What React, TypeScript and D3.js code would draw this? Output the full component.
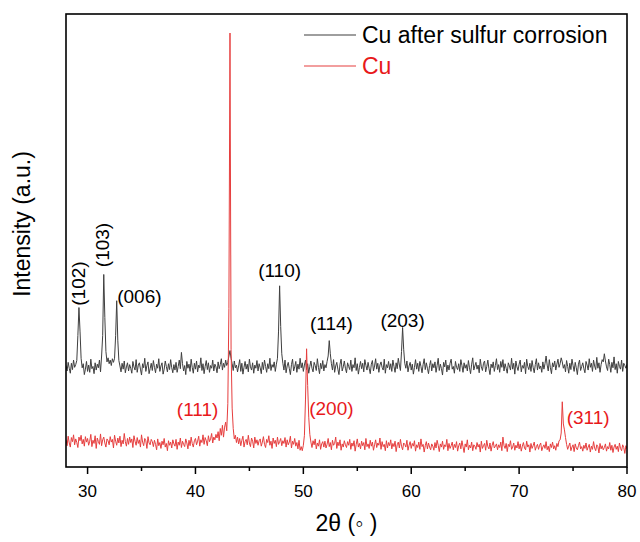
import * as d3 from "d3";

// XRD scans, 2θ from 28° to 80° every 0.1°, intensity in arbitrary units
const start = 28;
const step = 0.1;

const sulfurCu = [
  224, 212, 231, 218, 207, 229, 215, 236, 220, 226, 235, 290, 352, 300, 240, 219, 228, 204, 216, 233,
  211, 225, 209, 238, 217, 222, 206, 230, 214, 227, 219, 236, 210, 245, 290, 425, 330, 255, 232, 241,
  228, 236, 224, 239, 231, 240, 290, 367, 280, 235, 223, 210, 229, 216, 234, 208, 221, 230, 212, 226,
  218, 207, 233, 221, 214, 237, 209, 225, 230, 216, 203, 228, 219, 240, 211, 224, 232, 206, 217, 229,
  213, 235, 220, 208, 227, 218, 239, 211, 223, 230, 205, 216, 234, 222, 210, 228, 215, 237, 219, 208,
  226, 214, 231, 209, 222, 236, 217, 253, 228, 212, 224, 204, 233, 218, 227, 211, 238, 220, 207, 229,
  216, 234, 210, 225, 219, 241, 213, 228, 206, 222, 235, 215, 230, 209, 224, 218, 236, 212, 227, 221,
  208, 232, 217, 226, 239, 214, 229, 220, 236, 224, 231, 245, 257, 240, 228, 213, 234, 219, 225, 210,
  223, 237, 211, 229, 205, 220, 233, 216, 227, 210, 238, 221, 214, 230, 207, 225, 218, 235, 212, 228,
  219, 206, 231, 215, 236, 222, 209, 228, 217, 240, 213, 226, 220, 232, 211, 227, 240, 300, 400, 310,
  250, 229, 214, 236, 208, 223, 231, 217, 204, 226, 238, 212, 221, 233, 209, 227, 216, 240, 219, 230,
  211, 225, 236, 215, 228, 207, 222, 234, 218, 210, 231, 224, 213, 239, 220, 206, 229, 217, 235, 212,
  226, 219, 233, 245, 279, 250, 228, 214, 237, 209, 223, 231, 216, 204, 227, 238, 212, 221, 234, 218,
  208, 230, 222, 215, 236, 211, 226, 219, 241, 213, 228, 205, 220, 233, 217, 229, 210, 237, 224, 214,
  231, 218, 206, 227, 235, 212, 223, 239, 216, 229, 209, 225, 232, 220, 214, 238, 207, 226, 219, 233,
  215, 228, 211, 236, 222, 209, 230, 217, 240, 225, 213, 255, 308, 260, 229, 218, 234, 210, 223, 231,
  214, 227, 205, 220, 237, 216, 229, 211, 233, 222, 208, 226, 239, 215, 230, 218, 206, 224, 235, 212,
  228, 219, 232, 209, 224, 240, 213, 227, 217, 203, 231, 221, 236, 210, 225, 214, 229, 238, 216, 222,
  207, 233, 220, 215, 228, 211, 237, 224, 209, 230, 218, 226, 212, 235, 219, 206, 227, 241, 214, 223,
  231, 216, 225, 208, 238, 221, 213, 229, 234, 210, 222, 236, 217, 204, 227, 219, 232, 211, 224, 239,
  215, 226, 209, 233, 220, 237, 212, 228, 218, 207, 230, 223, 214, 240, 216, 229, 205, 234, 221, 213,
  227, 236, 210, 224, 218, 231, 206, 238, 222, 215, 229, 211, 235, 220, 208, 226, 239, 214, 230, 217,
  223, 209, 232, 216, 228, 245, 225, 212, 237, 219, 206, 230, 221, 234, 214, 227, 238, 220, 228, 241,
  232, 218, 226, 210, 235, 222, 207, 229, 215, 238, 224, 211, 231, 219, 204, 227, 236, 213, 222, 230,
  217, 208, 233, 225, 214, 239, 220, 229, 211, 236, 223, 215, 242, 218, 230, 209, 226, 237, 232, 250,
  234, 221, 213, 238, 226, 209, 231, 219, 243, 215, 228, 207, 233, 222, 216, 236, 211, 229, 224, 218,
  227,
];

const pureCu = [
  60, 47, 68, 53, 44, 65, 56, 71, 49, 62, 54, 43, 66, 58, 70, 51, 61, 46, 67, 55,
  63, 48, 57, 72, 45, 59, 52, 69, 41, 64, 56, 50, 73, 47, 60, 66, 53, 44, 62, 58,
  49, 67, 55, 61, 42, 70, 57, 48, 64, 53, 68, 45, 59, 51, 74, 56, 46, 63, 50, 66,
  54, 62, 43, 69, 57, 48, 65, 52, 60, 44, 71, 55, 47, 63, 58, 41, 67, 53, 49, 61,
  56, 45, 59, 50, 38, 62, 47, 54, 41, 57, 49, 63, 44, 52, 36, 58, 48, 55, 42, 60,
  51, 46, 61, 39, 55, 48, 64, 43, 57, 50, 45, 62, 53, 40, 59, 47, 66, 52, 44, 58,
  63, 49, 57, 68, 46, 60, 54, 71, 50, 65, 58, 47, 69, 56, 62, 74, 53, 66, 60, 72,
  64, 78, 58, 85, 70, 92, 66, 88, 99, 80, 140, 350, 958, 260, 130, 85, 62, 70, 54, 66,
  51, 63, 47, 59, 68, 44, 56, 61, 49, 70, 53, 45, 64, 57, 42, 66, 52, 60, 48, 58,
  62, 46, 55, 67, 50, 43, 61, 54, 69, 48, 57, 41, 64, 52, 59, 45, 66, 50, 56, 63,
  47, 58, 52, 65, 44, 60, 49, 55, 68, 42, 57, 50, 63, 46, 54, 40, 59, 37, 45, 36,
  48, 70, 150, 261, 180, 110, 72, 55, 43, 58, 49, 62, 40, 53, 46, 60, 39, 51, 56, 44,
  57, 42, 50, 63, 45, 54, 38, 59, 48, 52, 66, 41, 55, 47, 60, 37, 51, 44, 58, 49,
  43, 56, 48, 61, 39, 53, 46, 58, 35, 50, 62, 44, 52, 40, 57, 47, 54, 38, 63, 45,
  51, 41, 59, 46, 55, 37, 49, 60, 43, 53, 48, 64, 39, 56, 45, 50, 36, 58, 42, 54,
  47, 60, 40, 52, 45, 57, 34, 49, 55, 42, 61, 46, 38, 53, 50, 44, 59, 37, 48, 56,
  41, 52, 46, 58, 35, 49, 43, 55, 39, 62, 45, 50, 33, 47, 56, 40, 53, 44, 38, 51,
  46, 37, 54, 42, 59, 48, 34, 51, 44, 57, 39, 49, 45, 61, 36, 52, 41, 47, 55, 38,
  50, 43, 56, 35, 47, 53, 40, 58, 45, 32, 51, 44, 60, 38, 48, 42, 55, 36, 49, 46,
  39, 54, 44, 50, 33, 57, 41, 47, 52, 37, 59, 45, 40, 53, 35, 48, 56, 42, 46, 51,
  38, 49, 43, 55, 36, 66, 47, 41, 52, 34, 50, 45, 58, 39, 44, 53, 37, 48, 42, 56,
  40, 51, 35, 46, 54, 42, 38, 57, 44, 49, 33, 52, 41, 47, 55, 37, 45, 50, 39, 48,
  53, 36, 44, 49, 41, 56, 38, 46, 34, 51, 43, 55, 40, 47, 37, 52, 45, 58, 60, 75,
  144, 95, 82, 65, 50, 39, 46, 53, 36, 44, 49, 34, 51, 42, 38, 47, 55, 40, 45, 35,
  48, 41, 53, 37, 44, 50, 33, 46, 39, 56, 42, 36, 49, 45, 31, 52, 40, 47, 38, 43,
  51, 35, 45, 40, 54, 37, 48, 32, 44, 50, 39, 46, 34, 53, 41, 36, 49, 43, 30, 47,
  40,
];

// peak labels: [text, 2θ, intensity, rotated]
const sulfurPeaks: [string, number, number, boolean][] = [
  ["(102)", 29.3, 405, true],
  ["(103)", 31.6, 490, true],
  ["(006)", 34.8, 377, false],
  ["(110)", 47.8, 434, false],
  ["(114)", 52.6, 317, false],
  ["(203)", 59.2, 323, false],
];
const cuPeaks: [string, number, number][] = [
  ["(111)", 40.2, 126],
  ["(200)", 52.6, 130],
  ["(311)", 76.4, 110],
];

const xTicks = [30, 40, 50, 60, 70, 80];
const xMinor = [35, 45, 55, 65, 75];

const series = [
  { name: "Cu after sulfur corrosion", values: sulfurCu, color: "#3f3f3f", text: "#000" },
  { name: "Cu", values: pureCu, color: "#e63e3e", text: "#e8191b" },
];

const W = 640;
const H = 542;
const left = 66;
const right = 627;
const top = 14;
const bottom = 467;
const font = "'Liberation Sans', Arial, sans-serif";

export default function App() {
  const x = d3.scaleLinear().domain([28, 80]).range([left, right]);
  const y = d3.scaleLinear().domain([0, 1000]).range([bottom, top]);

  const line = d3
    .line<number>()
    .x((_, i) => x(start + i * step))
    .y((d) => y(d));

  return (
    <svg
      width={W}
      height={H}
      style={{ position: "absolute", left: 0, top: 0, fontFamily: font }}
    >
      <rect x={0} y={0} width={W} height={H} fill="#fff" />
      <defs>
        <clipPath id="plot">
          <rect x={left} y={top} width={right - left} height={bottom - top} />
        </clipPath>
      </defs>

      <g clipPath="url(#plot)" fill="none">
        {series.map((s) => (
          <path key={s.name} d={line(s.values) ?? ""} stroke={s.color} strokeWidth={1} />
        ))}
      </g>

      {/* frame */}
      <rect
        x={left}
        y={top}
        width={right - left}
        height={bottom - top}
        fill="none"
        stroke="#000"
        strokeWidth={1.6}
      />

      {/* x axis */}
      {xTicks.map((t) => (
        <g key={t}>
          <line x1={x(t)} x2={x(t)} y1={bottom} y2={bottom + 7} stroke="#000" strokeWidth={1.5} />
          <text x={x(t)} y={bottom + 24} textAnchor="middle" dominantBaseline="central" fontSize={17}>
            {t}
          </text>
        </g>
      ))}
      {xMinor.map((t) => (
        <line key={t} x1={x(t)} x2={x(t)} y1={bottom} y2={bottom + 4} stroke="#000" strokeWidth={1.5} />
      ))}
      <text x={(left + right) / 2} y={523} textAnchor="middle" dominantBaseline="central" fontSize={23}>
        2θ (◦ )
      </text>
      <text
        transform="translate(22, 224) rotate(-90)"
        textAnchor="middle"
        dominantBaseline="central"
        fontSize={23}
      >
        Intensity (a.u.)
      </text>

      {/* peak labels */}
      {sulfurPeaks.map(([t, px, py, rot]) =>
        rot ? (
          <text
            key={t}
            transform={`translate(${x(px) - 2}, ${y(py)}) rotate(-90)`}
            textAnchor="middle"
            dominantBaseline="central"
            fontSize={19}
          >
            {t}
          </text>
        ) : (
          <text key={t} x={x(px)} y={y(py)} textAnchor="middle" dominantBaseline="central" fontSize={19}>
            {t}
          </text>
        )
      )}
      {cuPeaks.map(([t, px, py]) => (
        <text
          key={t}
          x={x(px)}
          y={y(py)}
          textAnchor="middle"
          dominantBaseline="central"
          fontSize={19}
          fill="#e8191b"
        >
          {t}
        </text>
      ))}

      {/* legend */}
      {series.map((s, i) => (
        <g key={s.name} transform={`translate(304, ${35 + i * 31})`}>
          <line x1={0} x2={52} y1={0} y2={0} stroke={s.color} strokeWidth={1.2} />
          <text x={58} y={0} dominantBaseline="central" fontSize={23} fill={s.text}>
            {s.name}
          </text>
        </g>
      ))}
    </svg>
  );
}
